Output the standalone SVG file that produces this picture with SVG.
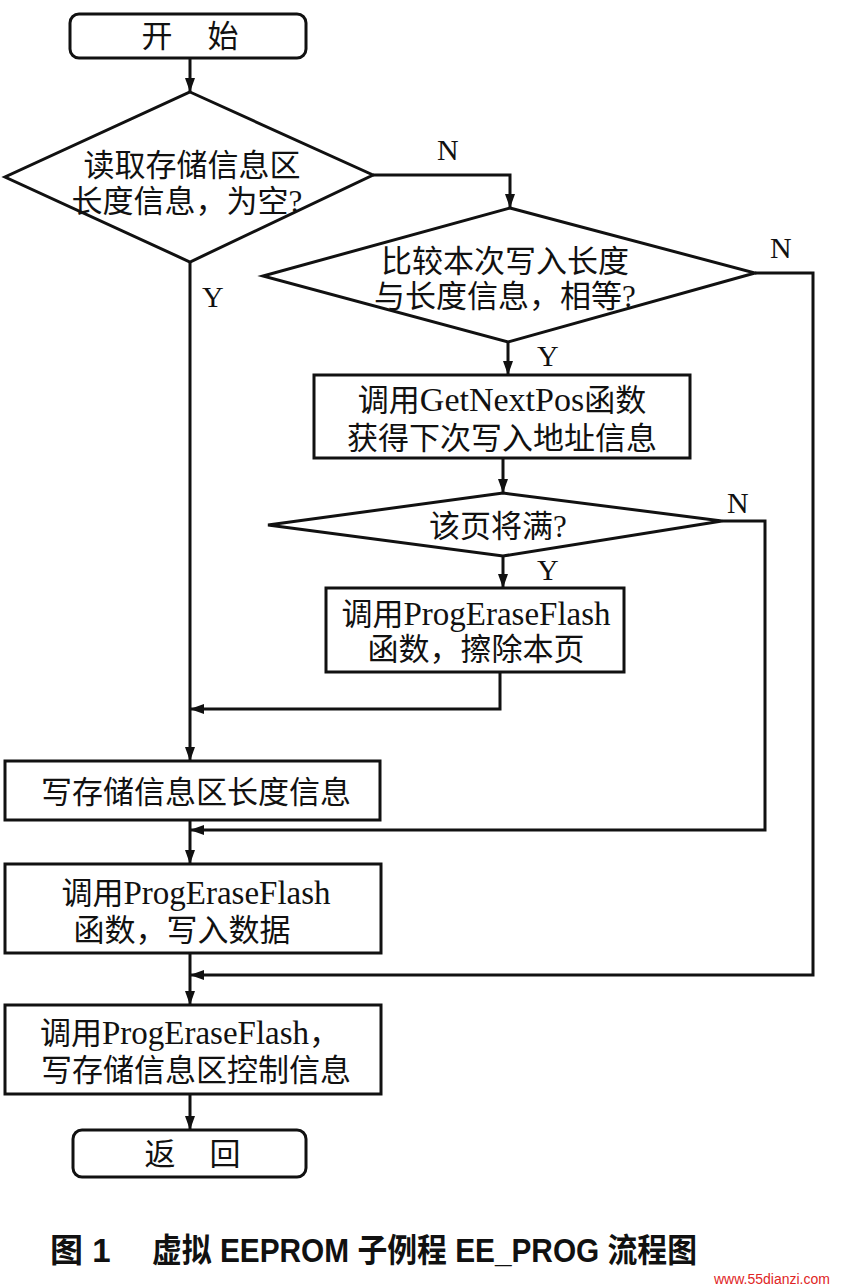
<svg xmlns="http://www.w3.org/2000/svg" width="841" height="1287" viewBox="0 0 841 1287">
<defs>
<marker id="arr" markerWidth="14" markerHeight="10" refX="14" refY="5" orient="auto" markerUnits="userSpaceOnUse">
<path d="M0,0 L14,5 L0,10 Z" fill="#111"/>
</marker>
<style>
.s{fill:#fff;stroke:#111;stroke-width:3}
.c{fill:none;stroke:#111;stroke-width:3}
.t{font-family:"Liberation Serif","Noto Sans CJK SC",serif;font-size:31px;fill:#111;text-anchor:middle}
.l{font-family:"Liberation Serif",serif;font-size:30px;fill:#111}
.cap{font-family:"Liberation Sans","Noto Sans CJK SC",sans-serif;font-size:33px;font-weight:bold;fill:#111}
</style>
</defs>
<rect width="841" height="1287" fill="#fff"/>
<g id="connectors">
<path class="c" d="M190,58 V92" marker-end="url(#arr)"/>
<path class="c" d="M373,175 H510 V208" marker-end="url(#arr)"/>
<path class="c" d="M508,342 V375" marker-end="url(#arr)"/>
<path class="c" d="M503,458 V493" marker-end="url(#arr)"/>
<path class="c" d="M503,556 V588" marker-end="url(#arr)"/>
<path class="c" d="M500,672 V709 H190" marker-end="url(#arr)"/>
<path class="c" d="M190,262 V761" marker-end="url(#arr)"/>
<path class="c" d="M722,521 H765 V830 H190" marker-end="url(#arr)"/>
<path class="c" d="M190,820 V864" marker-end="url(#arr)"/>
<path class="c" d="M755,273 H813 V975 H190" marker-end="url(#arr)"/>
<path class="c" d="M190,953 V1005" marker-end="url(#arr)"/>
<path class="c" d="M190,1094 V1130" marker-end="url(#arr)"/>
<text class="l" x="437" y="160">N</text>
<text class="l" x="770" y="258">N</text>
<text class="l" x="202" y="307">Y</text>
<text class="l" x="537" y="366">Y</text>
<text class="l" x="727" y="513">N</text>
<text class="l" x="537" y="580">Y</text>
</g>
<g id="start">
<rect class="s" x="70" y="14" width="236" height="44" rx="9"/>
<text class="t" x="157" y="47">开</text>
<text class="t" x="223" y="47">始</text>
</g>
<g id="d1">
<polygon class="s" points="190,92 373,175 190,262 5,177"/>
<text class="t" x="192" y="176">读取存储信息区</text>
<text class="t" x="187" y="212">长度信息，为空?</text>
</g>
<g id="d2">
<polygon class="s" points="510,208 755,273 508,342 263,276"/>
<text class="t" x="505" y="272">比较本次写入长度</text>
<text class="t" x="505" y="307">与长度信息，相等?</text>
</g>
<g id="b1">
<rect class="s" x="314" y="375" width="376" height="83"/>
<text class="t" x="502" y="411">调用<tspan font-size="34">GetNextPos</tspan>函数</text>
<text class="t" x="502" y="449">获得下次写入地址信息</text>
</g>
<g id="d3">
<polygon class="s" points="503,493 722,521 503,556 268,525"/>
<text class="t" x="498" y="537">该页将满?</text>
</g>
<g id="b2">
<rect class="s" x="326" y="588" width="298" height="84"/>
<text class="t" x="476" y="625">调用<tspan font-size="33">ProgEraseFlash</tspan></text>
<text class="t" x="476" y="660">函数，擦除本页</text>
</g>
<g id="b3">
<rect class="s" x="5" y="761" width="375" height="59"/>
<text class="t" x="196" y="803">写存储信息区长度信息</text>
</g>
<g id="b4">
<rect class="s" x="5" y="864" width="376" height="89"/>
<text class="t" x="196" y="904">调用<tspan font-size="33">ProgEraseFlash</tspan></text>
<text class="t" x="182" y="941">函数，写入数据</text>
</g>
<g id="b5">
<rect class="s" x="5" y="1005" width="376" height="89"/>
<text class="t" x="190" y="1044">调用<tspan font-size="33">ProgEraseFlash</tspan>，</text>
<text class="t" x="196" y="1081">写存储信息区控制信息</text>
</g>
<g id="end">
<rect class="s" x="73" y="1130" width="233" height="47" rx="9"/>
<text class="t" x="160" y="1165">返</text>
<text class="t" x="225" y="1165">回</text>
</g>
<g id="caption">
<text class="cap" x="50" y="1262">图 1</text>
<text class="cap" x="152" y="1262" textLength="545" lengthAdjust="spacingAndGlyphs">虚拟 EEPROM 子例程 EE_PROG 流程图</text>
<text x="714" y="1284" font-family="Liberation Sans,sans-serif" font-size="14" fill="#e02525">www.55dianzi.com</text>
</g>
</svg>
